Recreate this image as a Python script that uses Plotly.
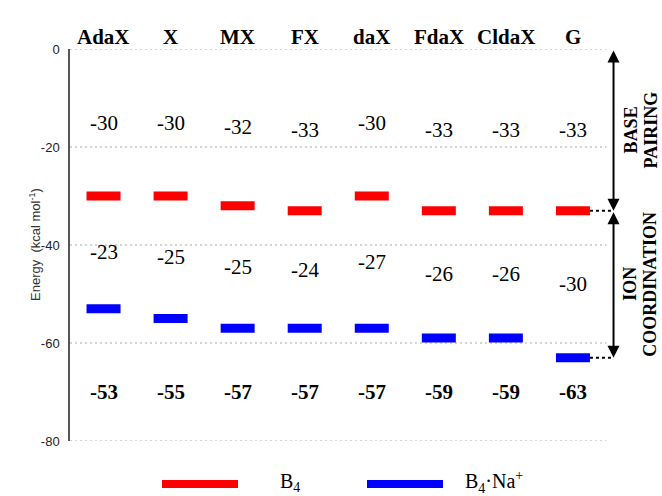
import plotly.graph_objects as go

# Energies (kcal/mol) per modified base
categories = ["AdaX", "X", "MX", "FX", "daX", "FdaX", "CldaX", "G"]
b4 = [-30, -30, -32, -33, -30, -33, -33, -33]            # base pairing (B4)
b4_na = [-53, -55, -57, -57, -57, -59, -59, -63]         # total with Na+ (B4·Na+)
ion_coord = [-23, -25, -25, -24, -27, -26, -26, -30]     # ion coordination part
tick_vals = [0, -20, -40, -60, -80]
tick_text = ["0", "-20", "-40", "-60", "-80"]
legend_names = ["B<sub>4</sub>", "B<sub>4</sub>·Na<sup>+</sup>"]
bracket_labels = [("BASE", "PAIRING"), ("ION", "COORDINATION")]

# ---- layout geometry (pixels) ----
W, H = 662, 496
ML, MR, MT, MB = 70, 0, 49, 55
PX_PER_CAT = 67.06
plot_w = W - ML - MR
plot_h = H - MT - MB
x_lo = -0.5
x_hi = plot_w / PX_PER_CAT + x_lo
px_per_e = plot_h / 80.0

BAR_W = 34 / PX_PER_CAT
BAR_H = 9 / px_per_e
ARROW_X = (614 - 104) / PX_PER_CAT
SIDE_X1 = (631 - 104) / PX_PER_CAT
SIDE_X2 = (651 - 104) / PX_PER_CAT

SERIF = "Liberation Serif, Times New Roman, serif"
SANS = "Liberation Sans, Arial, sans-serif"
RED = "#ff0000"
BLUE = "#0000ff"

idx = list(range(len(categories)))

fig = go.Figure()

for vals, col in ((b4, RED), (b4_na, BLUE)):
    fig.add_trace(go.Bar(
        x=idx, y=[BAR_H] * len(vals), base=[v - BAR_H / 2 for v in vals],
        width=BAR_W, marker=dict(color=col, line=dict(width=0)),
        showlegend=False, hoverinfo="skip",
    ))

# dotted connectors from the G levels to the brackets on the right
for v in (b4[-1], b4_na[-1]):
    fig.add_trace(go.Scatter(
        x=[idx[-1] + BAR_W / 2, ARROW_X], y=[v, v], mode="lines",
        line=dict(color="black", width=2, dash="dot"),
        showlegend=False, hoverinfo="skip",
    ))

shapes = []
for t in tick_vals:
    shapes.append(dict(
        type="line", xref="x", yref="y", x0=x_lo, x1=idx[-1] + 0.5, y0=t, y1=t,
        line=dict(color="#aaaaaa", width=1, dash="2px,3px"), layer="below",
    ))

annotations = []
# category names above the plot
for i, c in zip(idx, categories):
    annotations.append(dict(
        x=i, xref="x", y=1, yref="paper", yshift=12, text=f"<b>{c}</b>",
        showarrow=False, yanchor="middle",
        font=dict(family=SERIF, size=21, color="black"),
    ))
# base pairing energies
for i, v in zip(idx, b4):
    annotations.append(dict(
        x=i, y=v / 2, xref="x", yref="y", text=str(v), showarrow=False,
        font=dict(family=SERIF, size=21, color="black"),
    ))
# ion coordination energies
for i, v, r, b in zip(idx, ion_coord, b4, b4_na):
    annotations.append(dict(
        x=i, y=(r + b) / 2, xref="x", yref="y", text=str(v), showarrow=False,
        font=dict(family=SERIF, size=21, color="black"),
    ))
# totals
for i, v in zip(idx, b4_na):
    annotations.append(dict(
        x=i, y=-70, xref="x", yref="y", text=f"<b>{v}</b>", showarrow=False,
        font=dict(family=SERIF, size=21, color="black"),
    ))

# double-headed brackets with their two-line captions
spans = ((0, b4[-1]), (b4[-1], b4_na[-1]))
for (top, bottom), (line1, line2) in zip(spans, bracket_labels):
    annotations.append(dict(
        x=ARROW_X, y=bottom, ax=ARROW_X, ay=top, xref="x", yref="y",
        axref="x", ayref="y", text="", showarrow=True,
        arrowhead=2, startarrowhead=2, arrowside="end+start",
        arrowsize=1.2, startarrowsize=1.2, arrowwidth=2, arrowcolor="black",
    ))
    for sx, word in ((SIDE_X1, line1), (SIDE_X2, line2)):
        annotations.append(dict(
            x=sx, y=(top + bottom) / 2, xref="x", yref="y",
            text=f"<b>{word}</b>", textangle=-90, showarrow=False,
            font=dict(family=SERIF, size=18, color="black"),
        ))

# y-axis title
annotations.append(dict(
    x=0, xref="paper", xshift=-45, y=0.5, yref="paper",
    text="Energy\u00a0 (kcal mol<sup>-1</sup>)", textangle=-90, showarrow=False,
    font=dict(family=SANS, size=13, color="#333333"),
))

# legend drawn below the axis
def px_x(p):
    return (p - ML) / plot_w


def px_y(p):
    return (H - MB - p) / plot_h


for (x0, x1), col, name, tx in (((162, 238), RED, legend_names[0], 278),
                                ((367, 443), BLUE, legend_names[1], 463)):
    shapes.append(dict(
        type="rect", xref="paper", yref="paper",
        x0=px_x(x0), x1=px_x(x1), y0=px_y(488), y1=px_y(480),
        fillcolor=col, line=dict(width=0),
    ))
    annotations.append(dict(
        x=px_x(tx), y=px_y(482), xref="paper", yref="paper", text=name,
        xanchor="left", yanchor="middle", showarrow=False,
        font=dict(family=SERIF, size=20, color="black"),
    ))

fig.update_layout(
    width=W, height=H, margin=dict(l=ML, r=MR, t=MT, b=MB),
    paper_bgcolor="white", plot_bgcolor="white",
    barmode="overlay", showlegend=False,
    shapes=shapes, annotations=annotations,
    xaxis=dict(range=[x_lo, x_hi], visible=False, fixedrange=True),
    yaxis=dict(
        range=[-80, 0], showgrid=False, zeroline=False,
        showline=True, linecolor="#555555", linewidth=1.5,
        tickvals=tick_vals, ticktext=tick_text, ticks="",
        ticklabelstandoff=6,
        tickfont=dict(family=SANS, size=13, color="#222222"),
    ),
)

fig.write_html("out.html")
